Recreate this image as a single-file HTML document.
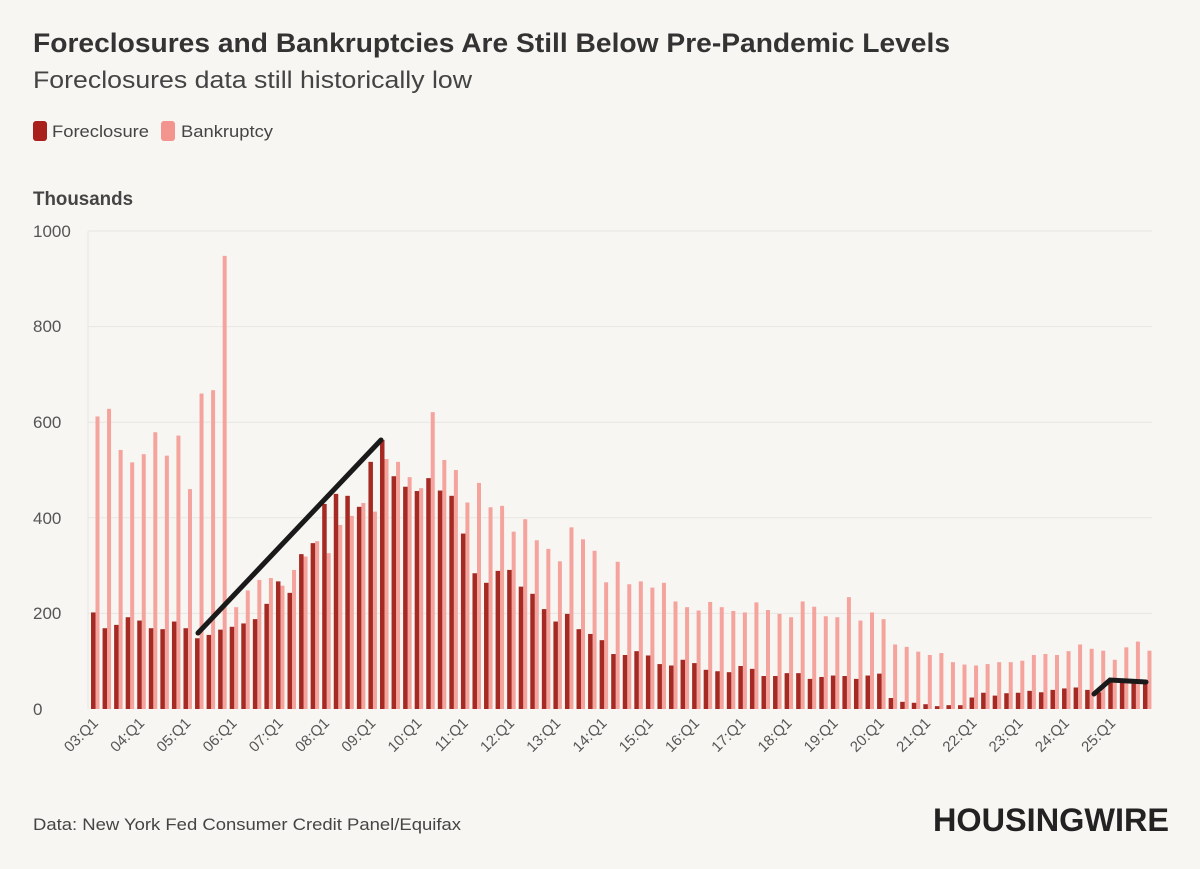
<!DOCTYPE html>
<html><head><meta charset="utf-8"><style>body{margin:0;background:#f8f6f3}svg{display:block}</style></head>
<body>
<svg id="s" width="1200" height="869" xmlns="http://www.w3.org/2000/svg" font-family="Liberation Sans, sans-serif">
<rect width="1200" height="869" fill="#f8f6f3"/>
<text x="33" y="52" font-size="27" font-weight="bold" fill="#333" textLength="917" lengthAdjust="spacingAndGlyphs">Foreclosures and Bankruptcies Are Still Below Pre-Pandemic Levels</text>
<text x="33" y="88" font-size="24" fill="#444" textLength="439" lengthAdjust="spacingAndGlyphs">Foreclosures data still historically low</text>
<rect x="33" y="121" width="14" height="20" rx="3" fill="#a91f1c"/>
<text x="52" y="137" font-size="17" fill="#444" textLength="97" lengthAdjust="spacingAndGlyphs">Foreclosure</text>
<rect x="161" y="121" width="14" height="20" rx="3" fill="#f4948e"/>
<text x="181" y="137" font-size="17" fill="#444" textLength="92" lengthAdjust="spacingAndGlyphs">Bankruptcy</text>
<text x="33" y="205" font-size="19" font-weight="bold" fill="#444" textLength="100" lengthAdjust="spacingAndGlyphs">Thousands</text>
<g stroke="#e8e6e2" stroke-width="1">
<line x1="88" y1="231" x2="1152" y2="231"/><line x1="88" y1="326.6" x2="1152" y2="326.6"/><line x1="88" y1="422.2" x2="1152" y2="422.2"/><line x1="88" y1="517.8" x2="1152" y2="517.8"/><line x1="88" y1="613.4" x2="1152" y2="613.4"/><line x1="88" y1="231" x2="88" y2="709"/>
</g>
<g font-size="17" fill="#555">
<text x="33" y="237">1000</text><text x="33" y="332">800</text><text x="33" y="428">600</text><text x="33" y="524">400</text><text x="33" y="619">200</text><text x="33" y="715">0</text>
</g>
<g id="bars"></g>
<g id="labs" font-size="15" fill="#555"></g>
<polyline points="198,633 381,440" stroke="#1a1a1a" stroke-width="5" fill="none" stroke-linecap="round"/>
<polyline points="1094,694 1110,680 1146,682" stroke="#1a1a1a" stroke-width="5" fill="none" stroke-linecap="round"/>
<text x="33" y="830" font-size="17" fill="#444" textLength="428" lengthAdjust="spacingAndGlyphs">Data: New York Fed Consumer Credit Panel/Equifax</text>
<text x="933" y="831" font-size="32" font-weight="bold" fill="#222" textLength="236" lengthAdjust="spacingAndGlyphs">HOUSINGWIRE</text>
</svg>
<script>
var F=[202,169,176,192,185,169,167,183,169,148,155,166,172,179,
188,220,267,243,324,347,429,450,446,423,517,563,487,465,456,483,457,446,367,284,264,289,291,
256,241,209,183,199,167,157,144,115,113,121,112,94,91,103,96,82,79,77,90,84,69,69,75,
75,63,67,70,69,63,70,74,23,15,13,10,6,8,8,24,34,28,33,34,38,35,
40,43,45,40,35,58,58,57,57];
var B=[612,628,542,516,533,579,530,572,460,660,667,948,213,248,
270,274,258,291,319,351,326,385,404,431,413,523,517,485,462,621,521,500,432,473,422,425,371,
397,353,335,309,380,355,331,265,308,261,267,254,264,225,213,206,224,213,205,202,223,207,199,192,
225,214,194,192,234,185,202,188,135,130,120,113,117,98,93,91,94,
98,98,101,113,115,113,121,135,126,122,103,129,141,122];
var s=11.56,g=document.getElementById('bars'),l=document.getElementById('labs'),h='',t='';
for(var i=0;i<92;i++){var x=91+i*s;
h+='<rect x="'+(x+4.5)+'" y="'+(709-B[i]*0.478)+'" width="4" height="'+(B[i]*0.478)+'" fill="#f4a39d"/>';
h+='<rect x="'+x+'" y="'+(709-F[i]*0.478)+'" width="4.5" height="'+(F[i]*0.478)+'" fill="#a52a24"/>';
if(i%4==0){var yr=('0'+(3+i/4)).slice(-2);t+='<text text-anchor="end" transform="translate('+(x+8)+',724) rotate(-45)">'+yr+':Q1</text>';}}
g.innerHTML=h;l.innerHTML=t;
</script>
</body></html>
